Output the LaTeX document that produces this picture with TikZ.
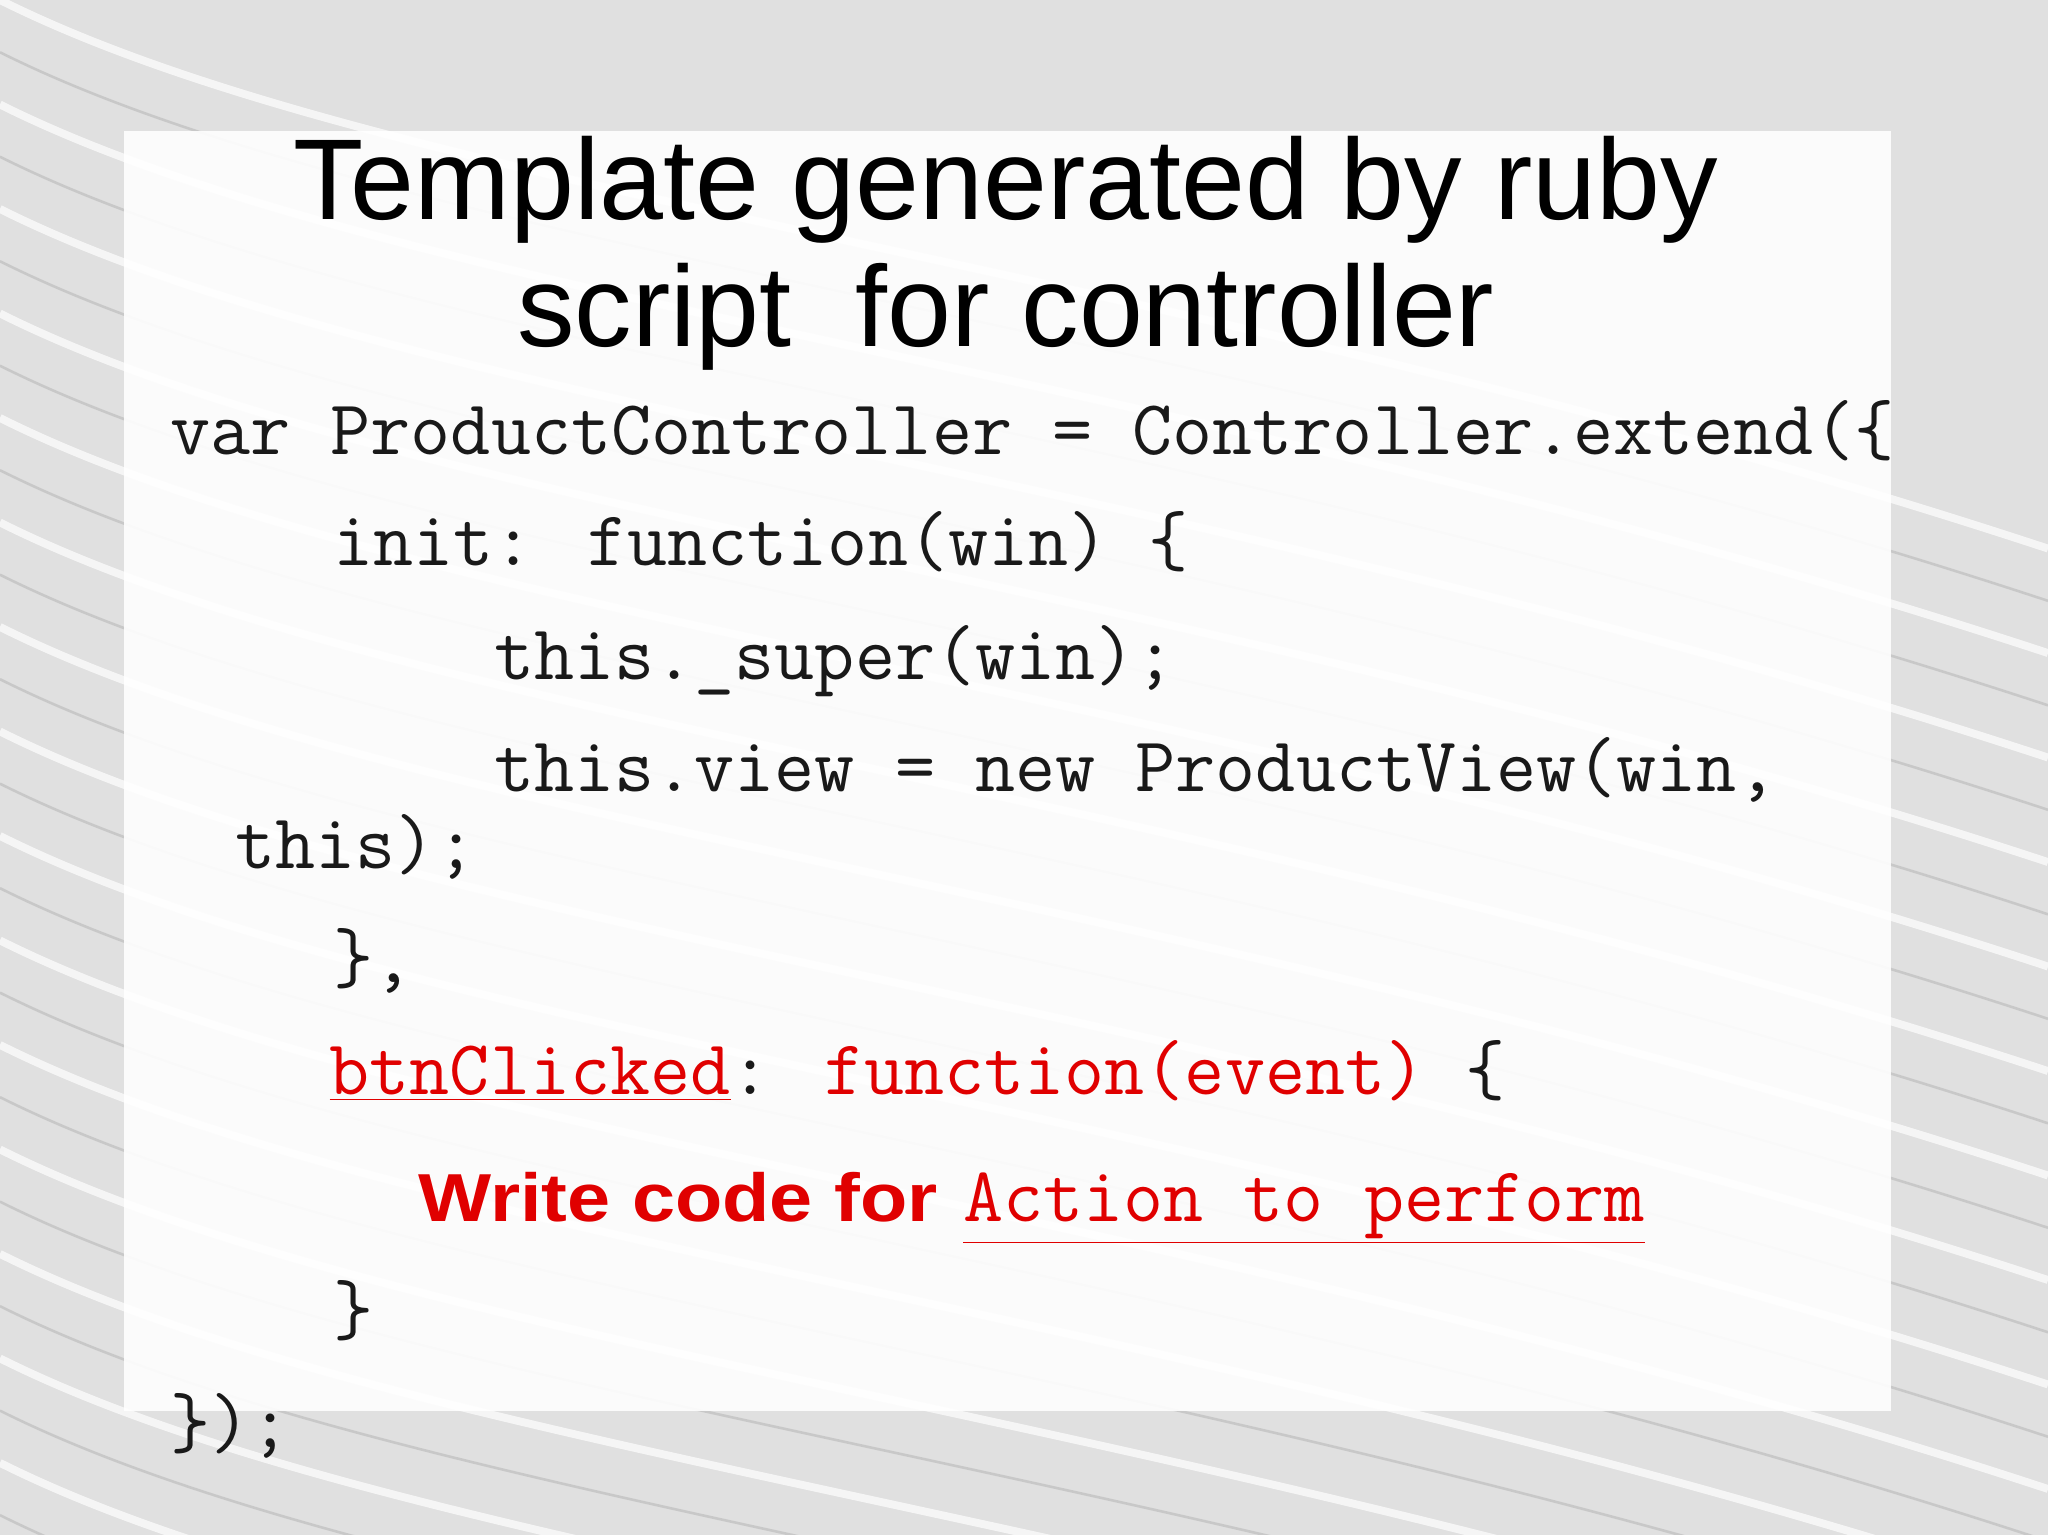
\documentclass[tikz,border=0pt]{standalone}
\usepackage{fontspec}
\setmainfont{Liberation Sans}
\definecolor{slidered}{HTML}{E00000}
\begin{document}
\begin{tikzpicture}[x=0.5pt,y=-0.5pt,
  titletxt/.style={font=\fontsize{44}{50}\selectfont, anchor=base, text=black, inner sep=0},
  codetxt/.style={font=\ttfamily\fontsize{29.8}{34}\selectfont, anchor=base west, inner sep=0, text=black!90},
  redtxt/.style={codetxt, text=slidered}]
\useasboundingbox (0,0) rectangle (1568,1175);
\fill[black!12] (0,0) rectangle (1568,1175);
\foreach \i in {0,...,14}{
  \draw[white, line width=3pt, opacity=0.7] (0,{80*\i}) .. controls (300,{80*\i+150}) and (900,{80*\i+200}) .. (1568,{80*\i+420});
  \draw[black!30, line width=1pt, opacity=0.5] (0,{80*\i+40}) .. controls (300,{80*\i+190}) and (900,{80*\i+240}) .. (1568,{80*\i+460});
}
\fill[white, opacity=0.9] (95,100) rectangle (1448,1080);
\node[titletxt] (t1) at (770,168) {Template generated by ruby};
\node[titletxt] (t2) at (770,265) {script\ \ for controller};
\node[codetxt] (l1) at (130,348) {var ProductController = Controller.extend(\{};
\node[codetxt] (l2) at (255,433) {init: function(win) \{};
\node[codetxt] (l3) at (378,520) {this.\_super(win);};
\node[codetxt] (l4) at (378,606) {this.view = new ProductView(win,};
\node[codetxt] (l5) at (180,665) {this);};
\node[codetxt] (l6) at (255,752) {\},};
\node[codetxt] (l7a) at (252,838) {\textcolor{slidered}{\underline{btnClicked}}: \textcolor{slidered}{function(event)} \{};
\node[anchor=base west, inner sep=0, text=slidered, font=\bfseries\fontsize{26}{30}\selectfont] (w) at (320,935) {\scalebox{1.14}[1]{Write code for}};
\node[redtxt] (a) at (737,935) {\underline{Action to perform}};
\node[codetxt] (l9) at (255,1022) {\}};
\node[codetxt] (l10) at (130,1108) {\});};
\end{tikzpicture}
\end{document}
